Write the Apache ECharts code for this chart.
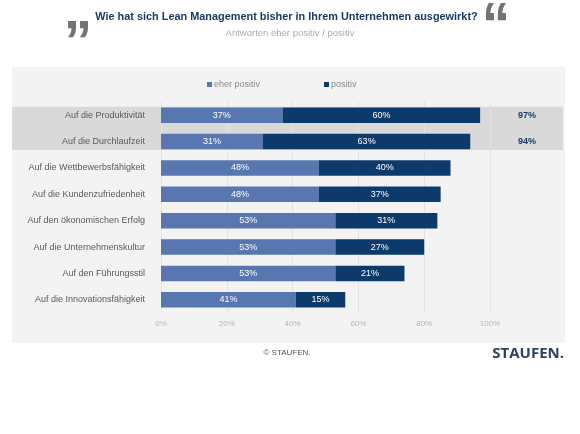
<!DOCTYPE html>
<html><head><meta charset="utf-8">
<script src="https://cdn.jsdelivr.net/npm/echarts@6/dist/echarts.min.js"></script>
<style>html,body{margin:0;padding:0;background:#fff}#c{width:580px;height:434px}</style>
</head><body><div id="c"></div>
<script>
var categories = ['Auf die Produktivität','Auf die Durchlaufzeit','Auf die Wettbewerbsfähigkeit','Auf die Kundenzufriedenheit','Auf den ökonomischen Erfolg','Auf die Unternehmenskultur','Auf den Führungsstil','Auf die Innovationsfähigkeit'];
var eherPositiv = [37,31,48,48,53,53,53,41];
var positiv = [60,63,40,37,31,27,21,15];
var highlighted = [0,1];
var xTicks = [0,20,40,60,80,100];

var chart = echarts.init(document.getElementById('c'), null, {renderer:'canvas'});
var FONT = 'Liberation Sans, Arial, sans-serif';
var option = {
  animation:false,
  textStyle:{fontFamily:FONT},
  legend:{
    top:80, left:207, padding:0, itemWidth:5, itemHeight:5, itemGap:64, icon:'rect',
    textStyle:{fontSize:9,color:'#8a8a8a',padding:[0,0,0,-3]},
    data:['eher positiv','positiv']
  },
  grid:{left:161, right:90, top:102, height:211, containLabel:false},
  xAxis:{type:'value', min:xTicks[0], max:xTicks[xTicks.length-1], interval:20,
    axisLine:{show:false}, axisTick:{show:false},
    axisLabel:{formatter:'{value}%', color:'#b5b5b5', fontSize:8, margin:7},
    splitLine:{show:true, lineStyle:{color:'#e3e3e3', width:1}}},
  yAxis:{type:'category', inverse:true, data:categories,
    axisLine:{show:false}, axisTick:{show:false},
    axisLabel:{color:'#5a5a5a', fontSize:9, margin:16}},
  series:[
    {name:'eher positiv', type:'bar', stack:'a', data:eherPositiv, barWidth:'59%',
     itemStyle:{color:'#5876b0'},
     label:{show:true, position:'inside', formatter:'{c}%', color:'#fff', fontSize:9}},
    {name:'positiv', type:'bar', stack:'a', data:positiv, barWidth:'59%',
     itemStyle:{color:'#0c3a6b'},
     label:{show:true, position:'inside', formatter:'{c}%', color:'#fff', fontSize:9}}
  ]
};
chart.setOption(option);

var y0 = chart.convertToPixel({yAxisIndex:0}, categories[highlighted[0]]);
var y1 = chart.convertToPixel({yAxisIndex:0}, categories[highlighted[highlighted.length-1]]);
var band = 211/categories.length;
var gfx = [
  {type:'rect', z:-20, shape:{x:12,y:67,width:553,height:276}, style:{fill:'#f3f3f3'}},
  {type:'rect', z:-15, shape:{x:12,y:y0-band*0.32,width:551,height:(y1-y0)+band*0.64}, style:{fill:'#d9d9d9'}},
  {type:'text', z:10, style:{text:'Wie hat sich Lean Management bisher in Ihrem Unternehmen ausgewirkt?', x:286.5, y:17, textAlign:'center', textVerticalAlign:'middle', font:'bold 10.9px '+FONT, fill:'#1c3a66'}},
  {type:'text', z:10, style:{text:'Antworten eher positiv / positiv', x:290, y:33, textAlign:'center', textVerticalAlign:'middle', font:'9.5px '+FONT, fill:'#ababab'}},
  {type:'text', z:10, style:{text:'\u201D', x:78, y:17, textAlign:'center', textVerticalAlign:'top', font:'bold 57px '+FONT, fill:'#737373'}},
  {type:'text', z:10, style:{text:'\u201C', x:496, y:-1, textAlign:'center', textVerticalAlign:'top', font:'bold 57px '+FONT, fill:'#737373'}},
  {type:'text', z:10, style:{text:'\u00A9 STAUFEN.', x:287, y:353, textAlign:'center', textVerticalAlign:'middle', font:'8px '+FONT, fill:'#555'}},
  {type:'text', z:10, style:{text:'STAUFEN.', x:564, y:354, textAlign:'right', textVerticalAlign:'middle', font:'bold 15px "Open Sans", sans-serif', fill:'#2b4260'}}
];
highlighted.forEach(function(i){
  var py = chart.convertToPixel({yAxisIndex:0}, categories[i]);
  gfx.push({type:'text', z:10, style:{text:(eherPositiv[i]+positiv[i])+'%', x:527, y:py, textAlign:'center', textVerticalAlign:'middle', font:'bold 9px '+FONT, fill:'#1c3a66'}});
});
chart.setOption({graphic:{elements:gfx}});
</script></body></html>
